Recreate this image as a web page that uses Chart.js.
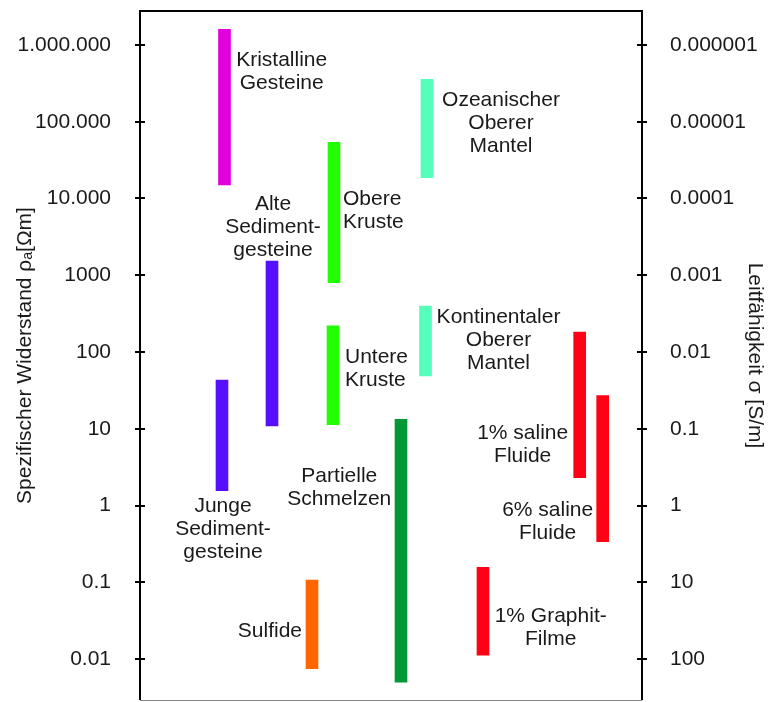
<!DOCTYPE html>
<html>
<head>
<meta charset="utf-8">
<script src="https://cdn.jsdelivr.net/npm/chart.js@4.4.1/dist/chart.umd.min.js"></script>
<style>
  html, body { margin: 0; padding: 0; background: #fff; }
  #wrap { width: 769px; height: 702px; }
</style>
</head>
<body>
<div id="wrap"><canvas id="chart1" width="769" height="702"></canvas></div>
<script>
var ctx1 = document.getElementById('chart1').getContext('2d');

// rock types, horizontal slot of each bar, resistivity range in Ohm*m
var rocks = ['Kristalline Gesteine', 'Alte Sedimentgesteine', 'Junge Sedimentgesteine', 'Obere Kruste',
    'Untere Kruste', 'Ozeanischer Oberer Mantel', 'Kontinentaler Oberer Mantel', 'Partielle Schmelzen',
    'Sulfide', '1% saline Fluide', '6% saline Fluide', '1% Graphit-Filme'];
var slot = [84.5, 132, 82, 194, 193, 287, 285.5, 261, 172, 439.7, 462.7, 343];
var rhoLow = [15000, 10.9, 1.56, 800, 11.3, 18700, 48.7, 0.005, 0.0075, 2.3, 0.337, 0.0112];
var rhoHigh = [1600000, 1535, 43, 54000, 220, 357000, 397, 13.3, 0.107, 182, 27, 0.157];
var barColors = ['#e100dc', '#5511ff', '#5511ff', '#22ff00', '#22ff00', '#55ffbb', '#55ffbb',
    '#009933', '#ff6600', '#ff0015', '#ff0015', '#ff0015'];

// axis ticks
var rhoTicks = [1000000, 100000, 10000, 1000, 100, 10, 1, 0.1, 0.01];
var rhoLabels = ['1.000.000', '100.000', '10.000', '1000', '100', '10', '1', '0.1', '0.01'];
var sigmaTicks = [0.000001, 0.00001, 0.0001, 0.001, 0.01, 0.1, 1, 10, 100];
var sigmaLabels = ['0.000001', '0.00001', '0.0001', '0.001', '0.01', '0.1', '1', '10', '100'];

// text next to the bars: lines, anchor (slot, resistivity of first baseline), alignment
var notes = [
    { lines: ['Kristalline', 'Gesteine'], x: 141.7, y: 532000, align: 'center' },
    { lines: ['Alte', 'Sediment-', 'gesteine'], x: 133, y: 7080, align: 'center' },
    { lines: ['Obere', 'Kruste'], x: 203, y: 8220, align: 'left' },
    { lines: ['Ozeanischer', 'Oberer', 'Mantel'], x: 361, y: 160000, align: 'center' },
    { lines: ['Kontinentaler', 'Oberer', 'Mantel'], x: 358.5, y: 237, align: 'center' },
    { lines: ['Untere', 'Kruste'], x: 205, y: 72.6, align: 'left' },
    { lines: ['Partielle', 'Schmelzen'], x: 199.3, y: 2.04, align: 'center' },
    { lines: ['Junge', 'Sediment-', 'gesteine'], x: 83, y: 0.822, align: 'center' },
    { lines: ['Sulfide'], x: 162, y: 0.0195, align: 'right' },
    { lines: ['1% saline', 'Fluide'], x: 382.7, y: 7.35, align: 'center' },
    { lines: ['6% saline', 'Fluide'], x: 407.7, y: 0.736, align: 'center' },
    { lines: ['1% Graphit-', 'Filme'], x: 410.7, y: 0.0306, align: 'center' }
];

var rhoMin = 0.002923;
var rhoMax = 2773000;

Chart.defaults.font.family = '"Liberation Sans", Arial, sans-serif';
Chart.defaults.font.size = 21;
Chart.defaults.color = '#1a1a1a';

var barData = function () {
    var data = [];
    for (var i = 0; i < rocks.length; ++i) {
        data.push({ x: slot[i], y: [rhoLow[i], rhoHigh[i]] });
    }
    return data;
};

// the tick label padding would otherwise shrink the plot vertically
var fitAxis = function (width) {
    return function (s) {
        s.width = width;
        s.paddingTop = 0;
        s.paddingBottom = 0;
    };
};

var frame = {
    id: 'frame',
    afterDraw: function (chart) {
        var c = chart.ctx;
        var a = chart.chartArea;
        c.save();
        // box round the plot
        c.strokeStyle = '#000';
        c.lineWidth = 2;
        c.beginPath();
        c.moveTo(a.left, a.bottom);
        c.lineTo(a.left, a.top);
        c.lineTo(a.right, a.top);
        c.lineTo(a.right, a.bottom);
        c.stroke();
        c.strokeStyle = '#888';
        c.lineWidth = 1;
        c.beginPath();
        c.moveTo(a.left, a.bottom + 0.5);
        c.lineTo(a.right, a.bottom + 0.5);
        c.stroke();
        // tick marks crossing the axes
        c.strokeStyle = '#000';
        c.lineWidth = 2;
        ['y', 'y2'].forEach(function (id) {
            var s = chart.scales[id];
            var xAxis = id === 'y' ? a.left : a.right;
            s.ticks.forEach(function (t) {
                var py = Math.round(s.getPixelForValue(t.value));
                c.beginPath();
                c.moveTo(xAxis - 5, py);
                c.lineTo(xAxis + 5, py);
                c.stroke();
            });
        });
        // labels of the bars
        var xs = chart.scales.x;
        var ys = chart.scales.y;
        c.fillStyle = '#1a1a1a';
        c.font = '21px "Liberation Sans", Arial, sans-serif';
        c.textBaseline = 'alphabetic';
        notes.forEach(function (n) {
            var px = xs.getPixelForValue(n.x);
            var py = ys.getPixelForValue(n.y);
            c.textAlign = n.align;
            for (var i = 0; i < n.lines.length; ++i) {
                c.fillText(n.lines[i], px, py + i * 23);
            }
        });
        c.restore();
    }
};

new Chart(ctx1, {
    type: 'bar',
    data: {
        datasets: [
            {
                label: 'Spezifischer Widerstand',
                data: barData(),
                backgroundColor: barColors,
                borderWidth: 0,
                barThickness: 12
            }
        ]
    },
    options: {
        responsive: false,
        animation: false,
        layout: { padding: { top: 11, bottom: 2, left: 0, right: 0 } },
        plugins: {
            legend: { display: false },
            tooltip: { enabled: false }
        },
        scales: {
            x: {
                type: 'linear',
                min: 0,
                max: 502,
                offset: false,
                display: false
            },
            y: {
                type: 'logarithmic',
                position: 'left',
                min: rhoMin,
                max: rhoMax,
                grid: { display: false },
                border: { display: false },
                afterBuildTicks: function (s) {
                    s.ticks = rhoTicks.map(function (v) { return { value: v }; });
                },
                afterFit: fitAxis(140),
                ticks: {
                    padding: 21,
                    color: '#1a1a1a',
                    font: { size: 21 },
                    callback: function (v, i) { return rhoLabels[i]; }
                },
                title: {
                    display: true,
                    text: 'Spezifischer Widerstand ρₐ[Ωm]',
                    color: '#1a1a1a',
                    font: { size: 21 },
                    padding: { top: 13, bottom: 0 }
                }
            },
            y2: {
                type: 'logarithmic',
                position: 'right',
                reverse: true,
                min: 1 / rhoMax,
                max: 1 / rhoMin,
                grid: { display: false },
                border: { display: false },
                afterBuildTicks: function (s) {
                    s.ticks = sigmaTicks.map(function (v) { return { value: v }; });
                },
                afterFit: fitAxis(127),
                ticks: {
                    padding: 20,
                    color: '#1a1a1a',
                    font: { size: 21 },
                    callback: function (v, i) { return sigmaLabels[i]; }
                },
                title: {
                    display: true,
                    text: 'Leitfähigkeit σ [S/m]',
                    color: '#1a1a1a',
                    font: { size: 21 },
                    padding: { top: 2, bottom: 0 }
                }
            }
        }
    },
    plugins: [frame]
});
</script>
</body>
</html>
